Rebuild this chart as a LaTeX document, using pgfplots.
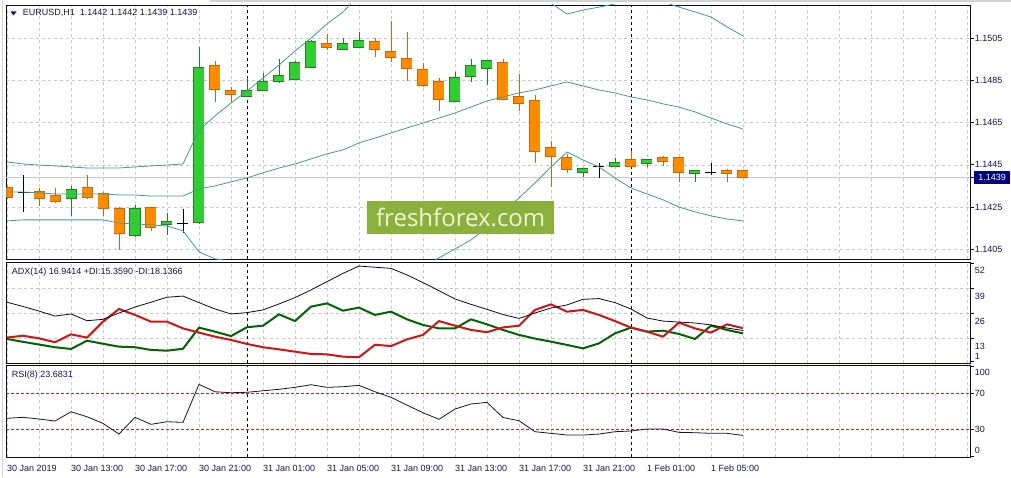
\documentclass[border=0pt]{standalone}
\usepackage{fontspec}
\setmainfont{Liberation Sans}
\newfontfamily\wmfont{Open Sans}
\usepackage{pgfplots}
\pgfplotsset{compat=1.18}
\usepackage{pgfplotstable}

\definecolor{framec}{RGB}{10,10,60}
\definecolor{labelc}{RGB}{20,20,90}
\definecolor{gridc}{RGB}{200,200,200}
\definecolor{bidc}{RGB}{200,200,200}
\definecolor{bidnavy}{RGB}{0,0,128}
\definecolor{bandc}{RGB}{70,155,135}
\definecolor{bullf}{RGB}{50,205,50}
\definecolor{bulld}{RGB}{30,130,30}
\definecolor{bearf}{RGB}{255,140,0}
\definecolor{beard}{RGB}{205,100,10}
\definecolor{pdic}{RGB}{0,100,0}
\definecolor{mdic}{RGB}{210,20,20}
\definecolor{adxc}{RGB}{10,10,40}
\definecolor{rsic}{RGB}{20,20,60}
\definecolor{levelc}{RGB}{225,25,25}
\definecolor{wmfill}{RGB}{139,176,62}
\definecolor{wmtext}{RGB}{240,246,215}

% hourly candles, t = hours after 30 Jan 09:00
\pgfplotstableread{
t open high low close
4 1.14293 1.14350 1.14208 1.14331
8 1.14118 1.14260 1.14108 1.14241
10 1.14170 1.14222 1.14118 1.14179
12 1.14179 1.15009 1.14170 1.14909
15 1.14776 1.14862 1.14772 1.14800
16 1.14805 1.14886 1.14800 1.14843
17 1.14848 1.14952 1.14838 1.14871
18 1.14857 1.14942 1.14857 1.14933
19 1.14914 1.15042 1.14909 1.15032
21 1.14999 1.15051 1.14999 1.15023
22 1.15009 1.15080 1.15009 1.15037
28 1.14753 1.14890 1.14753 1.14862
29 1.14871 1.14952 1.14843 1.14919
30 1.14909 1.14942 1.14829 1.14942
36 1.14416 1.14435 1.14393 1.14430
38 1.14445 1.14483 1.14440 1.14459
40 1.14459 1.14478 1.14440 1.14473
43 1.14412 1.14421 1.14369 1.14421
}\bulltab

\pgfplotstableread{
t open high low close
0 1.14340 1.14350 1.14288 1.14298
2 1.14321 1.14340 1.14255 1.14293
3 1.14302 1.14340 1.14269 1.14279
5 1.14340 1.14402 1.14288 1.14298
6 1.14312 1.14321 1.14208 1.14246
7 1.14241 1.14250 1.14047 1.14127
9 1.14246 1.14250 1.14137 1.14156
13 1.14919 1.14942 1.14748 1.14810
14 1.14800 1.14819 1.14748 1.14786
20 1.15023 1.15070 1.14995 1.15009
23 1.15032 1.15051 1.14961 1.14999
24 1.14985 1.15132 1.14938 1.14961
25 1.14952 1.15080 1.14848 1.14909
26 1.14900 1.14933 1.14819 1.14829
27 1.14843 1.14862 1.14705 1.14762
31 1.14933 1.14952 1.14762 1.14762
32 1.14772 1.14881 1.14705 1.14743
33 1.14753 1.14781 1.14459 1.14516
34 1.14530 1.14563 1.14345 1.14492
35 1.14483 1.14502 1.14412 1.14430
39 1.14473 1.14516 1.14440 1.14445
41 1.14483 1.14492 1.14445 1.14468
42 1.14483 1.14483 1.14369 1.14416
45 1.14421 1.14430 1.14369 1.14412
46 1.14420 1.14420 1.14390 1.14390
}\beartab

\pgfplotstableread{
t open high low close
1 1.14317 1.14402 1.14227 1.14317
11 1.14170 1.14241 1.14127 1.14170
37 1.14440 1.14459 1.14388 1.14440
44 1.14412 1.14459 1.14402 1.14412
}\dojitab

\pgfplotstableread{
h up mid lo
0 1.14464 1.14321 1.14184
1 1.14454 1.14321 1.14189
2 1.14449 1.14317 1.14189
3 1.14445 1.14312 1.14189
4 1.14440 1.14312 1.14189
5 1.14435 1.14312 1.14189
6 1.14435 1.14312 1.14189
7 1.14435 1.14307 1.14174
8 1.14440 1.14307 1.14170
9 1.14445 1.14302 1.14165
10 1.14449 1.14302 1.14160
11 1.14454 1.14302 1.14137
12 1.14615 1.14336 1.14037
13 1.14682 1.14350 1.14004
14 1.14743 1.14369 1.13994
15 1.14800 1.14388 1.13975
16 1.14862 1.14412 1.13961
17 1.14923 1.14435 1.13947
18 1.14990 1.14454 1.13919
19 1.15051 1.14478 1.13904
20 1.15118 1.14502 1.13885
21 1.15175 1.14521 1.13866
22 1.15255 1.14554 1.13852
23 1.15288 1.14577 1.13866
24 1.15312 1.14601 1.13890
25 1.15326 1.14625 1.13923
26 1.15336 1.14648 1.13961
27 1.15336 1.14672 1.14009
28 1.15341 1.14696 1.14051
29 1.15355 1.14724 1.14094
30 1.15355 1.14753 1.14151
31 1.15322 1.14772 1.14222
32 1.15288 1.14791 1.14293
33 1.15246 1.14805 1.14364
34 1.15217 1.14824 1.14440
35 1.15165 1.14843 1.14511
36 1.15184 1.14824 1.14473
37 1.15198 1.14805 1.14440
38 1.15213 1.14791 1.14388
39 1.15227 1.14772 1.14340
40 1.15232 1.14758 1.14312
41 1.15222 1.14739 1.14284
42 1.15198 1.14724 1.14250
43 1.15175 1.14701 1.14227
44 1.15151 1.14672 1.14208
45 1.15104 1.14644 1.14193
46 1.15061 1.14620 1.14184
}\bandtab

\pgfplotstableread{
h adx pdi mdi
0 31.6 12.5 13.2
1 29.4 11.0 14.2
2 27.0 9.6 12.8
3 24.4 8.2 10.8
4 25.5 7.3 14.9
5 22.0 11.6 13.2
6 22.7 10.0 21.5
7 26.0 8.5 28.1
8 29.1 8.2 25.0
9 31.6 6.8 21.5
10 34.2 6.4 21.5
11 34.8 7.4 18.0
12 31.4 18.4 15.8
13 28.1 16.3 13.7
14 25.5 14.0 12.0
15 26.2 18.6 9.9
16 27.6 19.4 8.2
17 30.7 25.3 7.1
18 34.0 21.8 5.9
19 38.0 29.3 4.7
20 42.3 31.0 4.5
21 46.6 27.2 3.3
22 50.4 28.8 3.0
23 49.8 25.0 9.5
24 49.2 26.7 8.8
25 45.8 22.7 12.3
26 41.8 19.8 14.6
27 37.6 18.0 21.8
28 33.3 18.0 19.4
29 30.5 22.7 17.2
30 27.9 20.1 16.0
31 25.2 17.2 18.5
32 23.2 14.6 19.4
33 26.0 12.7 27.6
34 28.6 11.1 30.5
35 30.2 9.4 26.7
36 33.1 7.6 27.6
37 33.5 10.2 25.0
38 31.4 15.4 21.8
39 28.1 18.4 18.4
40 23.4 16.3 16.3
41 21.8 16.8 13.7
42 21.3 15.1 21.0
43 20.8 12.5 18.0
44 19.8 19.4 15.8
45 18.2 17.2 20.1
46 16.9 15.4 18.1
}\adxtab

\pgfplotstableread{
h rsi
0 42.7
1 43.8
2 41.9
3 39.7
4 50.0
5 44.4
6 37.1
7 25.2
8 43.8
9 36.0
10 38.9
11 38.2
12 80.4
13 72.2
14 71.1
15 71.6
16 73.3
17 74.9
18 77.1
19 80.0
20 77.1
21 77.8
22 79.3
23 72.2
24 66.0
25 57.4
26 48.9
27 41.6
28 53.0
29 58.6
30 60.4
31 43.6
32 40.0
33 27.8
34 26.0
35 24.1
36 24.1
37 25.2
38 27.8
39 28.6
40 30.8
41 30.8
42 27.1
43 26.7
44 26.0
45 26.0
46 23.7
}\rsitab

\pgfplotsset{
  cbar/.style n args={2}{draw=none, mark=none, forget plot,
    error bars/.cd, y dir=plus, y explicit, error mark=none,
    error bar style={draw=#1, solid, line width=#2, line cap=butt}},
  mt/.style={
  scale only axis, width=963.7pt, xmin=-0.044, xmax=60.19, anchor=south west,
  font=\fontsize{9}{10.8}\selectfont,
  axis line style={framec, line width=0.9pt},
  tick align=outside, major tick length=4pt,
  xtick={0,2,...,60}, xticklabels={}, xtick style={draw=none},
  ytick pos=right, yticklabel pos=right,
  ytick style={framec, line width=0.8pt},
  xmajorgrids, ymajorgrids,
  major grid style={gridc, line width=0.6pt, dash pattern=on 3pt off 3pt},
  extra x ticks={15,39}, extra x tick labels={},
  extra x tick style={xmajorgrids=true, major grid style={black, line width=0.7pt, dash pattern=on 3pt off 3pt}},
  tick label style={font=\fontsize{9}{10.8}\selectfont, text=labelc},
  yticklabel style={anchor=west, inner sep=0pt, xshift=0.7pt},
}}

\begin{document}
\begin{tikzpicture}[font=\fontsize{9}{10.8}\selectfont]
\fill[white] (0,0) rectangle (1011pt,477pt);
\path[use as bounding box] (0,0) rectangle (1011pt,477pt);
\fill[gray!35] (1.5pt,0) rectangle (3pt,477pt);
\fill[gray!35] (210pt,474.6pt) rectangle (1011pt,477pt);

% ---------- price panel ----------
\begin{axis}[mt, at={(6.3pt,217.7pt)}, height=254.3pt,
  ymin=1.14002, ymax=1.15208,
  ytick={1.1405,1.1425,1.1445,1.1465,1.1485,1.1505},
  yticklabels={1.1405,1.1425,1.1445,1.1465,1.1485,1.1505},
  extra y ticks={1.1439}, extra y tick labels={1.1439},
  extra y tick style={ymajorgrids=true, major grid style={solid, bidc, line width=0.7pt},
    yticklabel style={fill=bidnavy, text=white, inner xsep=4.4pt, inner ysep=3pt, xshift=-1pt}},
]
% wicks
\addplot[cbar={bulld}{0.9pt}] table[x=t, y=low, y error expr=\thisrow{high}-\thisrow{low}] {\bulltab};
\addplot[cbar={beard}{0.9pt}] table[x=t, y=low, y error expr=\thisrow{high}-\thisrow{low}] {\beartab};
\addplot[cbar={black}{0.9pt}] table[x=t, y=low, y error expr=\thisrow{high}-\thisrow{low}] {\dojitab};
% bodies: border then fill
\addplot[cbar={bulld}{11pt}] table[x=t, y expr=\thisrow{open}-0.000043, y error expr=\thisrow{close}-\thisrow{open}+0.000086] {\bulltab};
\addplot[cbar={bullf}{9.2pt}] table[x=t, y=open, y error expr=\thisrow{close}-\thisrow{open}] {\bulltab};
\addplot[cbar={beard}{11pt}] table[x=t, y expr=\thisrow{close}-0.000043, y error expr=\thisrow{open}-\thisrow{close}+0.000086] {\beartab};
\addplot[cbar={bearf}{9.2pt}] table[x=t, y=close, y error expr=\thisrow{open}-\thisrow{close}] {\beartab};
\addplot[cbar={black}{11pt}] table[x=t, y expr=\thisrow{open}-0.000024, y error expr=0.000048] {\dojitab};
% Bollinger bands
\addplot[bandc, line width=0.8pt] table[x=h, y=up] {\bandtab};
\addplot[bandc, line width=0.8pt] table[x=h, y=mid] {\bandtab};
\addplot[bandc, line width=0.8pt] table[x=h, y=lo] {\bandtab};
\end{axis}

% ---------- ADX panel ----------
\begin{axis}[mt, at={(6.3pt,114pt)}, height=100.5pt,
  ymin=0, ymax=52.26,
  ytick={13,26,39},
  yticklabels={\raisebox{-11.8pt}{13},\raisebox{-11.8pt}{26},\raisebox{-11.8pt}{39}},
  yticklabel style={anchor=base west},
  extra y ticks={1,52},
  extra y tick labels={\raisebox{1.2pt}{1},\raisebox{-10.9pt}{52}},
  extra y tick style={ymajorgrids=false},
]
\addplot[pdic, line width=2pt, line join=round] table[x=h, y=pdi] {\adxtab};
\addplot[mdic, line width=2pt, line join=round] table[x=h, y=mdi] {\adxtab};
\addplot[adxc, line width=0.8pt] table[x=h, y=adx] {\adxtab};
\end{axis}

% ---------- RSI panel ----------
\begin{axis}[mt, at={(6.3pt,20pt)}, height=91.7pt,
  ymin=-0.3, ymax=101.6, ymajorgrids=false,
  ytick={30,70}, yticklabels={30,70},
  extra y ticks={0,100},
  extra y tick labels={\raisebox{2.8pt}{0},\raisebox{-8.5pt}{100}},
  extra y tick style={yticklabel style={anchor=base west}},
  xticklabels={30 Jan 2019,,30 Jan 13:00,,30 Jan 17:00,,30 Jan 21:00,,31 Jan 01:00,,31 Jan 05:00,,31 Jan 09:00,,31 Jan 13:00,,31 Jan 17:00,,31 Jan 21:00,,1 Feb 01:00,,1 Feb 05:00,,,,,,,,},
  xticklabel style={anchor=base west, inner sep=0pt, yshift=-10pt},
]
\addplot[draw=levelc, line width=1.4pt, line cap=butt, dash pattern=on 3pt off 2pt] coordinates {(-1,70) (61,70)};
\addplot[draw=levelc, line width=1.4pt, line cap=butt, dash pattern=on 3pt off 2pt] coordinates {(-1,30) (61,30)};
\addplot[rsic, line width=0.8pt] table[x=h, y=rsi] {\rsitab};
\end{axis}

% ---------- texts ----------
\fill[labelc] (10.5pt,465.5pt) -- (16.5pt,465.5pt) -- (13.5pt,461.5pt) -- cycle;
\node[anchor=west, inner sep=0pt, text=labelc] at (22.7pt,464pt) {EURUSD,H1\ \ 1.1442 1.1442 1.1439 1.1439};
\node[anchor=west, inner sep=0pt, text=labelc] at (11.7pt,205.3pt) {ADX(14) 16.9414 +DI:15.3590 -DI:18.1366};
\node[anchor=west, inner sep=0pt, text=labelc] at (11.7pt,102pt) {RSI(8) 23.6831};
\node[fill=wmfill, text=wmtext, minimum width=186.7pt, minimum height=33.3pt, inner sep=0pt,
  font=\wmfont\fontsize{24}{28}\selectfont] at (460.7pt,259.4pt) {freshforex.com};
\end{tikzpicture}
\end{document}
